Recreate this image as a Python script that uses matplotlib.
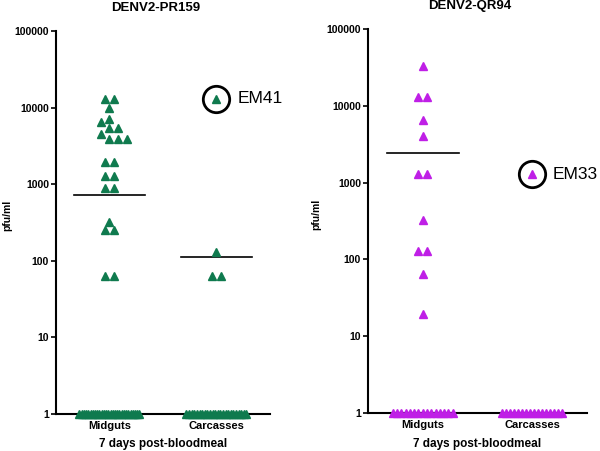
import numpy as np
import matplotlib
matplotlib.use('Agg')
import matplotlib.pyplot as plt

plt.rcParams['font.family'] = ['Liberation Sans', 'DejaVu Sans']

categories = ['Midguts', 'Carcasses']
panel_titles = ['DENV2-PR159', 'DENV2-QR94']
y_ticks = [1, 10, 100, 1000, 10000, 100000]
y_tick_labels = ['1', '10', '100', '1000', '10000', '100000']

# positive titers (pfu/ml)
pr159_midguts = [13000, 13000, 10000, 7200, 6600, 5400, 5400, 4600, 3900, 3900, 3900,
                 1950, 1950, 1300, 1300, 900, 900, 320, 255, 255, 64, 64]
pr159_carcasses = [13000, 130, 64, 64]
qr94_midguts = [32500, 13000, 13000, 6500, 4000, 1280, 1280, 327, 128, 128, 64, 19.6]
qr94_carcasses = [1280]

# negative samples, drawn on the 1 pfu/ml floor
pr159_zeros = [28, 24]
qr94_zeros = [15, 16]

# horizontal bars
pr159_means = [720, 112]
qr94_means = [2440, None]

# circled mosquito: (label, category index, titer)
pr159_flag = ('EM41', 1, 13000)
qr94_flag = ('EM33', 1, 1280)

green = '#0f7a4e'
purple = '#bf1fe6'


def swarm_x(ax, xc, values, dist=8.7, step=4.35):
    """Pack equal-value rows side by side, avoiding overlaps in pixel space."""
    vals = np.asarray(values, float)
    ppu = ax.transData.transform((1, 1))[0] - ax.transData.transform((0, 1))[0]
    ypx = ax.transData.transform(np.column_stack([np.full(len(vals), xc), vals]))[:, 1]
    xs = np.zeros(len(vals))
    placed = []
    uniq = sorted(set(vals), reverse=True)
    for u in uniq:
        idx = np.where(vals == u)[0]
        k = len(idx)
        pattern = (np.arange(k) - (k - 1) / 2) * dist
        y = ypx[idx[0]]
        for j in range(0, 40):
            c = step * ((j + 1) // 2) * (1 if j % 2 else -1) if j else 0.0
            c = -c
            ok = all(np.hypot(p + c - px, y - py) >= dist - 0.01
                     for p in pattern for px, py in placed)
            if ok:
                break
        for n, i in enumerate(idx):
            placed.append((pattern[n] + c, y))
            xs[i] = xc + (pattern[n] + c) / ppu
    return xs


def zero_x(ax, xc, n, gap=4.3, max_span=60):
    ppu = ax.transData.transform((1, 1))[0] - ax.transData.transform((0, 1))[0]
    span = min(gap * (n - 1), max_span)
    return xc + np.linspace(-span / 2, span / 2, n) / ppu


fig = plt.figure(figsize=(6, 4.51), dpi=100)
ax1 = fig.add_axes([0.0933, 0.082, 0.3567, 0.849])
ax2 = fig.add_axes([0.6133, 0.0843, 0.365, 0.8514])

panels = [
    (ax1, [pr159_midguts, pr159_carcasses], pr159_zeros, pr159_means, pr159_flag, green),
    (ax2, [qr94_midguts, qr94_carcasses], qr94_zeros, qr94_means, qr94_flag, purple),
]

for ax, groups, zeros, means, flag, col in panels:
    ax.set_yscale('log')
    ax.set_ylim(1, 100000)
    ax.set_xlim(0.5, 2.5)
    for k, vals in enumerate(groups):
        xc = k + 1
        xs = swarm_x(ax, xc, vals)
        ax.plot(xs, vals, '^', color=col, ms=5.8, mec=col, ls='none', zorder=3)
        xz = zero_x(ax, xc, zeros[k])
        ax.plot(xz, np.ones(len(xz)), '^', color=col, ms=5.8, mec=col, ls='none',
                zorder=3, clip_on=False)
        if means[k] is not None:
            ax.plot([xc - 0.33, xc + 0.33], [means[k], means[k]], color='black', lw=1.2, zorder=2)
        if k == flag[1]:
            i = vals.index(flag[2])
            ax.plot(xs[i], flag[2], 'o', ms=19, mfc='none', mec='black', mew=2, zorder=4)
            ax.annotate(flag[0], xy=(xs[i], flag[2]), xytext=(15, 0),
                        textcoords='offset points', va='center', ha='left', fontsize=12.5)

    ax.spines['top'].set_visible(False)
    ax.spines['right'].set_visible(False)
    ax.spines['left'].set_linewidth(1.5)
    ax.spines['bottom'].set_linewidth(1.5)
    ax.set_yticks(y_ticks)
    ax.set_yticklabels(y_tick_labels, fontsize=7.5, fontweight='bold')
    ax.yaxis.set_minor_locator(matplotlib.ticker.NullLocator())
    ax.tick_params(axis='y', length=3.5, width=1.2, pad=1.5)
    ax.set_xticks([1, 2])
    ax.set_xticklabels(categories, fontsize=8, fontweight='bold')
    ax.tick_params(axis='x', length=0, pad=5)
    ax.set_xlabel('7 days post-bloodmeal', fontsize=8.5, fontweight='bold')
    ax.set_ylabel('pfu/ml', fontsize=7.5, fontweight='bold')

ax1.xaxis.set_label_coords(0.5, -0.062)
ax2.xaxis.set_label_coords(0.5, -0.064)
ax1.yaxis.set_label_coords(-0.205, 0.52)
ax2.yaxis.set_label_coords(-0.215, 0.518)

fig.text(156 / 600, 1 - 8 / 451, panel_titles[0], ha='center', va='center',
         fontsize=9.5, fontweight='bold')
fig.text(470 / 600, 1 - 5.5 / 451, panel_titles[1], ha='center', va='center',
         fontsize=9.5, fontweight='bold')

fig.savefig('out.png', dpi=100)
